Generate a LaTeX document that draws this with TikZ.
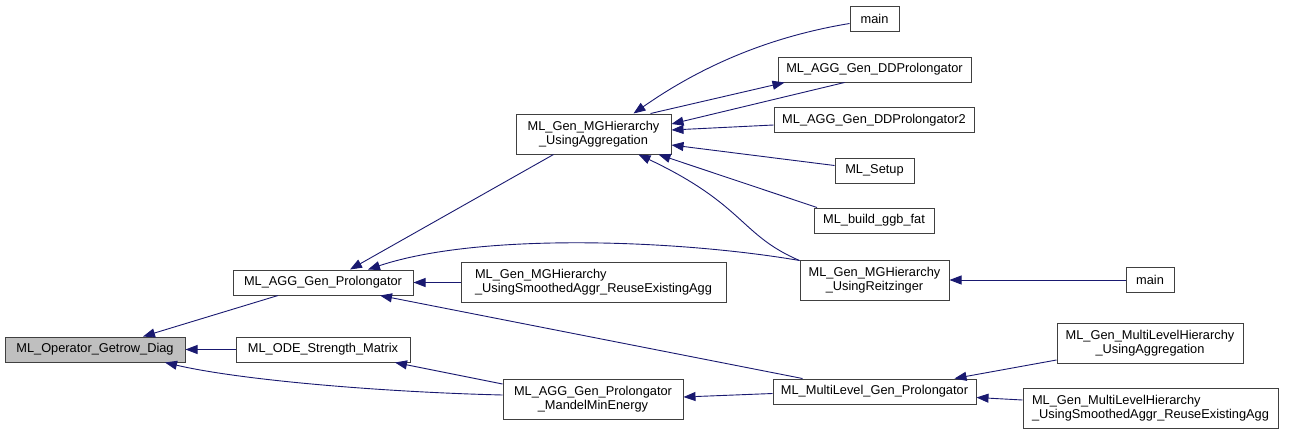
\documentclass[tikz,border=0pt]{standalone}
\usepackage{fontspec}
\setmainfont{Liberation Sans}
\usepackage{xcolor}
\usepackage{tikz}
\usetikzlibrary{arrows.meta, positioning}

\definecolor{edgeblue}{HTML}{191970}
\definecolor{boxgray}{HTML}{404040}

\begin{document}
\begin{tikzpicture}[
    x=1pt, y=-1pt,
    fn/.style={rectangle, draw=boxgray, line width=1pt, fill=white, inner sep=0pt, minimum height=25pt, align=center, font=\fontsize{12.8}{14.3}\selectfont},
    fntwo/.style={fn, minimum height=40pt},
    call/.style={draw=edgeblue, line width=0.9pt, -{Triangle[length=12pt,width=9pt]}}
]
\useasboundingbox (0,0) rectangle (1301,434);

\node[fn, fill=black!25, minimum width=180pt] (Diag) at (95,349.5) {ML\_Operator\_Getrow\_Diag};
\node[fn, minimum width=180pt] (AGGGen) at (323,282.5) {ML\_AGG\_Gen\_Prolongator};
\node[fn, minimum width=174pt] (ODE) at (323,349.5) {ML\_ODE\_Strength\_Matrix};
\node[fntwo, minimum width=155pt] (MGAgg) at (593.5,134) {ML\_Gen\_MGHierarchy\\\_UsingAggregation};
\node[fntwo, minimum width=265pt, align=left] (SmAgg) at (593.5,282.5) {ML\_Gen\_MGHierarchy\\\_UsingSmoothedAggr\_ReuseExistingAgg};
\node[fntwo, minimum width=180pt] (Mandel) at (593,399) {ML\_AGG\_Gen\_Prolongator\\\_MandelMinEnergy};
\node[fn, minimum width=49pt] (mainA) at (874.5,18.5) {main};
\node[fn, minimum width=193pt] (DDProl) at (874.5,69.5) {ML\_AGG\_Gen\_DDProlongator};
\node[fn, minimum width=200pt] (DDProlB) at (874,120) {ML\_AGG\_Gen\_DDProlongator2};
\node[fn, minimum width=79pt] (Setup) at (874.5,170.5) {ML\_Setup};
\node[fn, minimum width=120pt] (ggb) at (874,220.5) {ML\_build\_ggb\_fat};
\node[fntwo, minimum width=149pt] (Reitz) at (874.5,280) {ML\_Gen\_MGHierarchy\\\_UsingReitzinger};
\node[fn, minimum width=48pt] (mainB) at (1150,280) {main};
\node[fn, minimum width=203pt] (MLMulti) at (874.5,391.5) {ML\_MultiLevel\_Gen\_Prolongator};
\node[fntwo, minimum width=186pt] (MLHAgg) at (1150,343) {ML\_Gen\_MultiLevelHierarchy\\\_UsingAggregation};
\node[fntwo, minimum width=255pt, align=left] (MLHSm) at (1150.5,408) {ML\_Gen\_MultiLevelHierarchy\\\_UsingSmoothedAggr\_ReuseExistingAgg};

\draw[call] ([xshift=-45]AGGGen.south) -- ([xshift=48]Diag.north);
\draw[call] (ODE.west) -- (Diag.east);
\draw[call] ([yshift=4]Mandel.west) .. controls (380,392) and (240,380) .. ([xshift=70]Diag.south);
\draw[call] ([yshift=15]Mandel.west) -- ([xshift=72]ODE.south);
\draw[call] ([xshift=-40]MGAgg.south) -- ([xshift=27]AGGGen.north);
\draw[call] ([yshift=-1]Reitz.north west) .. controls (680,240) and (480,232) .. ([xshift=45]AGGGen.north);
\draw[call] (SmAgg.west) -- (AGGGen.east);
\draw[call] ([xshift=-72]MLMulti.north) -- ([xshift=57]AGGGen.south);
\draw[call] ([yshift=-2]MLMulti.west) -- ([yshift=2]Mandel.east);
\draw[call] ([yshift=-5]mainA.west) .. controls (780,35) and (710,60) .. ([xshift=40]MGAgg.north);
\draw[call] ([xshift=57]MGAgg.north) -- ([xshift=7]DDProl.south west);
\draw[call] ([xshift=-30]DDProl.south) -- ([yshift=10]MGAgg.east);
\draw[call] ([yshift=-5]DDProlB.west) -- ([yshift=4]MGAgg.east);
\draw[call] ([yshift=5]Setup.west) -- ([yshift=-11]MGAgg.east);
\draw[call] ([xshift=-57]ggb.north) -- ([xshift=65]MGAgg.south);
\draw[call] ([yshift=-1]Reitz.north west) .. controls (740,235) and (745,205) .. ([xshift=45]MGAgg.south);
\draw[call] (mainB.west) -- (Reitz.east);
\draw[call] ([yshift=-17]MLHAgg.west) -- ([xshift=80]MLMulti.north);
\draw[call] ([yshift=8]MLHSm.west) -- ([yshift=-6]MLMulti.east);

\end{tikzpicture}
\end{document}
